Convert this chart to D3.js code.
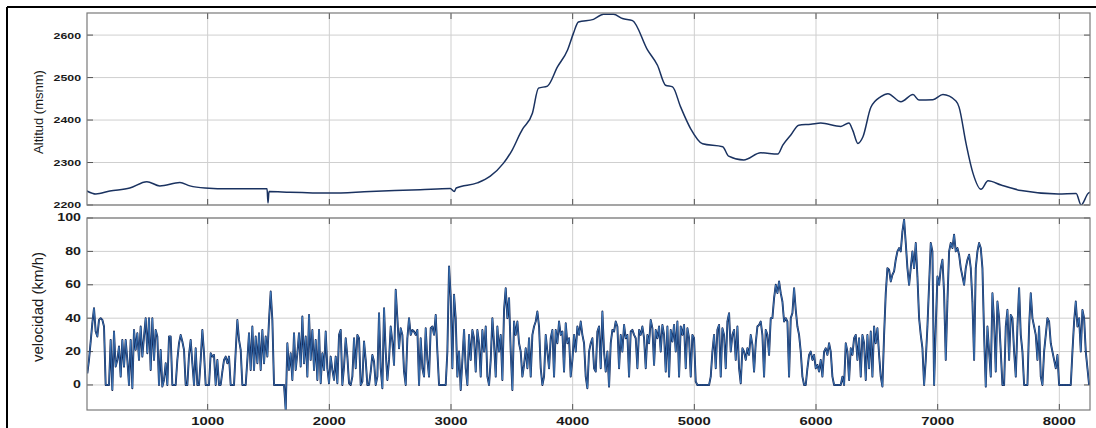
<!DOCTYPE html>
<html><head><meta charset="utf-8">
<script src="https://cdn.jsdelivr.net/npm/d3@7"></script>
<style>body{margin:0;background:#fff}svg{display:block}</style>
</head><body>
<svg id="c" width="1096" height="428"></svg>
<script>
// ---- data ----
const xTicks = [1000,2000,3000,4000,5000,6000,7000,8000];
const altTicks = [2200,2300,2400,2500,2600];
const spdTicks = [0,20,40,60,80,100];
const altDist = [7,81,196,360,500,607,772,854,978,1183,1430,1488,1496,1504,1677,2007,2336,2747,2994,3027,3043,3216,3323,3430,3504,3570,3587,3669,3719,3793,3875,3958,4006,4047,4171,4253,4335,4409,4492,4615,4697,4763,4821,4887,4969,5068,5233,5282,5406,5546,5686,5727,5793,5858,5957,6039,6204,6270,6303,6344,6385,6451,6533,6591,6698,6797,6846,6961,7043,7150,7175,7233,7290,7356,7414,7521,7686,7990,8138,8179,8236,8252];
const altVal  = [2233,2226,2233,2240,2255,2245,2253,2245,2240,2238,2238,2238,2205,2232,2230,2228,2232,2236,2239,2232,2240,2252,2268,2298,2330,2369,2378,2416,2475,2480,2525,2565,2604,2631,2637,2649,2649,2639,2634,2565,2529,2482,2478,2431,2380,2344,2337,2315,2306,2323,2320,2341,2365,2388,2390,2393,2385,2393,2375,2345,2360,2430,2455,2462,2443,2460,2447,2448,2460,2445,2431,2345,2275,2237,2257,2247,2234,2226,2227,2200,2227,2230];
const speedStart = 11, speedStep = 13.7;
const speedVal = [
7,15,26,37,46,32,29,39,40,39, 35,0,0,0,27,-3,32,11,15,23, 5,27,11,27,15,0,27,-2,33,21, 31,15,35,17,29,40,19,40,9,40,
15,33,29,0,21,-1,3,13,0,29, 29,0,0,0,15,25,30,26,21,0, 0,18,27,13,0,22,0,0,15,33, 19,0,0,0,19,17,18,0,15,0,
0,8,15,17,13,17,0,0,0,20, 39,27,21,0,0,0,15,31,9,35, 9,29,13,31,9,33,13,29,17,39, 56,39,0,0,0,0,0,0,0,-15,
25,9,19,3,31,9,19,31,11,41, 13,29,5,42,15,33,9,27,3,33, 1,19,9,32,10,1,17,9,
3,17,1,30,33,0,11,28,17,1, 0,5,28,10,30,28,0,2,26,15, 0,0,8,18,14,0,5,43,10,-2, 46,20,3,15,35,26,12,57,40,22,
34,30,8,0,28,40,30,33,32,30, 33,0,28,10,5,34,15,5,34,35, 30,42,20,0,0,0,0,0,20,71, 53,10,54,40,5,20,-3,15,33,10,
0,30,15,33,28,8,33,25,5,33, 20,35,5,0,15,40,25,5,35,20, 30,3,45,58,40,52,20,-3,38,30, 38,25,20,5,12,22,10,28,5,30,
35,38,44,35,10,0,5,30,20,10, 28,33,5,33,25,38,30,32,8,37, 25,28,5,15,30,20,35,
30,38,30,25,5,-2,20,25,28,10, 8,32,35,10,44,20,8,20,-1,25, 33,32,38,35,10,30,20,36,28,30, 5,32,33,30,28,10,33,30,35,28,
10,30,25,39,34,12,33,28,35,20, 36,30,8,35,5,33,26,36,20,38, 5,35,30,36,10,34,28,5,30,28, 2,0,0,0,0,0,0,0,0,5,
20,30,10,33,36,5,34,30,10,38, 43,20,30,33,15,35,10,1,22,20, 15,22,18,30,24,8,25,35,36,38, 30,5,33,30,18,40,40,52,60,55,
62,55,50,38,40,38,5,40,43,58, 45,35,30,20,5,0,0,10,18,20, 15,18,10,12,8,15,5,20,22,18,
25,20,5,0,0,0,0,0,5,0, 25,20,3,22,18,28,30,15,28,5, 30,25,3,30,10,32,5,35,25,34, 18,5,-1,30,55,70,69,62,66,68,
75,80,82,80,92,99,85,70,60,70, 80,70,85,65,40,30,22,0,15,35, 60,85,80,0,35,65,60,70,75,55, 15,50,80,85,82,90,80,82,78,70,
65,60,70,75,78,70,50,15,70,80, 85,82,70,30,-1,35,20,5,55,38, 8,50,40,20,0,0,35,45,15,42, 40,20,5,35,58,30,20,0,0,0,
35,55,40,35,30,15,35,5,0,20, 30,40,38,25,20,15,10,18,0,0, 0,0,0,0,0,0,20,38,50,35, 40,20,45,40,20,10,0
];

// ---- layout ----
const svg = d3.select('#c');
const L = 87, R = 1090;
const top1 = 13, bot1 = 205, top2 = 218, bot2 = 410;
const x = d3.scaleLinear().domain([0, 8252]).range([86, R]);
const yA = d3.scaleLinear().domain([2200, 2652]).range([bot1, top1]);
const yS = d3.scaleLinear().domain([-15, 100]).range([bot2, top2]);
const gridC = '#cfcfcf', boxC = '#7a7a7a', tickC = '#555', txtC = '#1a1a1a';
const font = 'Liberation Sans, Arial, sans-serif';

// outer frame
svg.append('line').attr('x1',7).attr('x2',1096).attr('y1',7).attr('y2',7).attr('stroke','#000').attr('stroke-width',2);
svg.append('line').attr('x1',7).attr('x2',7).attr('y1',7).attr('y2',428).attr('stroke','#000').attr('stroke-width',2);

function panel(y, t, b, yticks, fs, sx) {
  const g = svg.append('g');
  g.selectAll('.gx').data(xTicks).enter().append('line')
    .attr('x1', d=>x(d)).attr('x2', d=>x(d)).attr('y1', t).attr('y2', b)
    .attr('stroke', gridC).attr('stroke-width', 1);
  g.selectAll('.gy').data(yticks).enter().append('line')
    .attr('x1', L).attr('x2', R).attr('y1', d=>y(d)).attr('y2', d=>y(d))
    .attr('stroke', gridC).attr('stroke-width', 1);
  const tl = 6;
  g.selectAll('.tx').data(xTicks).enter().append('path')
    .attr('d', d=>`M${x(d)},${b}v${-tl}M${x(d)},${t}v${tl}`)
    .attr('stroke', tickC).attr('stroke-width', 1);
  g.selectAll('.ty').data(yticks).enter().append('path')
    .attr('d', d=>`M${L},${y(d)}h${tl}M${R},${y(d)}h${-tl}`)
    .attr('stroke', tickC).attr('stroke-width', 1);
  g.selectAll('.yl').data(yticks).enter().append('text')
    .attr('transform', d=>`translate(81,${y(d)}) scale(${sx},1)`)
    .attr('text-anchor','end').attr('dominant-baseline','central')
    .attr('font-family', font).attr('font-size', fs).attr('font-weight','bold').attr('fill', txtC)
    .text(d=>d);
  return g;
}

panel(yA, top1, bot1, altTicks, 9.5, 1.3);
panel(yS, top2, bot2, spdTicks, 10.5, 1.35);

const defs = svg.append('defs');
defs.append('clipPath').attr('id','c1').append('rect').attr('x',L).attr('y',top1).attr('width',R-L).attr('height',bot1-top1);
defs.append('clipPath').attr('id','c2').append('rect').attr('x',L).attr('y',top2).attr('width',R-L).attr('height',bot2-top2);

// altitude line
const altLine = d3.line().x((d,i)=>x(altDist[i])).y(d=>yA(d)).curve(d3.curveMonotoneX);
svg.append('path').datum(altVal).attr('d', altLine).attr('clip-path','url(#c1)')
  .attr('fill','none').attr('stroke','#1a3260').attr('stroke-width',1.5);

// speed line (dark outline + light core)
const spdLine = d3.line().x((d,i)=>x(speedStart + i*speedStep)).y(d=>yS(d));
svg.append('path').datum(speedVal).attr('d', spdLine).attr('clip-path','url(#c2)')
  .attr('fill','none').attr('stroke','#0c1e4e').attr('stroke-width',1.9).attr('stroke-linejoin','round');
svg.append('path').datum(speedVal).attr('d', spdLine).attr('clip-path','url(#c2)')
  .attr('fill','none').attr('stroke','#4a8fd6').attr('stroke-width',0.7).attr('stroke-linejoin','round');

// boxes
[[top1,bot1],[top2,bot2]].forEach(([t,b])=>{
  svg.append('rect').attr('x',L).attr('y',t).attr('width',R-L).attr('height',b-t)
    .attr('fill','none').attr('stroke',boxC).attr('stroke-width',1.2);
});

// x tick labels
svg.selectAll('.xl').data(xTicks).enter().append('text')
  .attr('transform', d=>`translate(${x(d)},425) scale(1.35,1)`)
  .attr('text-anchor','middle')
  .attr('font-family', font).attr('font-size', 11).attr('font-weight','bold').attr('fill', txtC)
  .text(d=>d);

// axis labels
svg.append('text').attr('transform','translate(43,112) rotate(-90)')
  .attr('text-anchor','middle').attr('font-family', font).attr('font-size', 13).attr('fill', txtC)
  .text('Altitud (msnm)');
svg.append('text').attr('transform','translate(43,307) rotate(-90)')
  .attr('text-anchor','middle').attr('font-family', font).attr('font-size', 15).attr('fill', txtC)
  .text('velocidad (km/h)');
</script>
</body></html>
